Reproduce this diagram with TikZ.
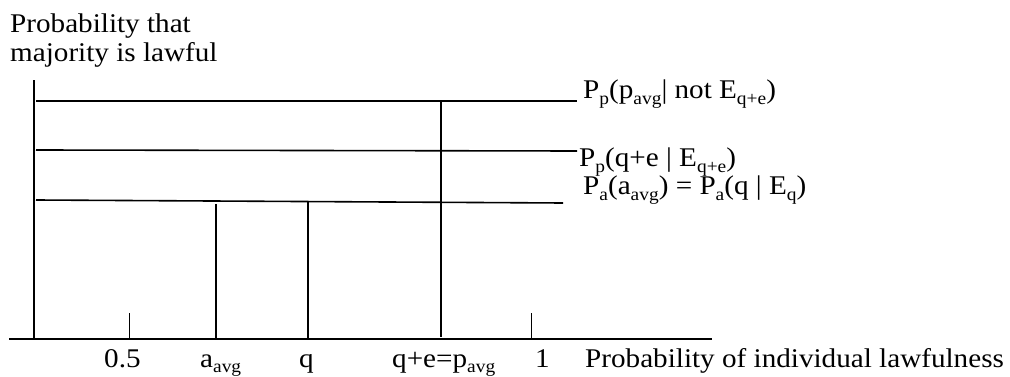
\documentclass[tikz,border=0pt]{standalone}
\usepackage{fontspec}
\setmainfont[FakeStretch=1.08]{Liberation Serif}
\newcommand\sbs[1]{\raisebox{-0.2em}{\fontsize{18}{18}\selectfont #1}}
\begin{document}
\begin{tikzpicture}[x=1pt,y=-1pt,
  ln/.style={line width=1.6pt},
  tk/.style={line width=1pt},
  lbl/.style={anchor=base west,inner sep=0pt,font=\fontsize{27}{29}\selectfont}]
\useasboundingbox (0,0) rectangle (1010,377);
% axes
\coordinate (yb) at (34,339); \coordinate (yt) at (34,80);
\coordinate (xl) at (9,339);  \coordinate (xr) at (712,339);
\draw[ln] (yb) -- (yt);
\draw[ln] (xl) -- (xr);
% ticks
\coordinate (t5b) at (129,339); \coordinate (t5t) at (129,313);
\coordinate (t1b) at (531,339); \coordinate (t1t) at (531,313);
\draw[tk] (t5b) -- (t5t);
\draw[tk] (t1b) -- (t1t);
% horizontal lines
\coordinate (h1l) at (36,101); \coordinate (h1r) at (577,101);
\coordinate (h2l) at (36,150); \coordinate (h2r) at (577,151);
\coordinate (h3l) at (36,200); \coordinate (h3r) at (563,203);
\draw[ln] (h1l) -- (h1r);
\draw[ln] (h2l) -- (h2r);
\draw[ln] (h3l) -- (h3r);
% verticals
\coordinate (vat) at (216,204); \coordinate (vab) at (216,339);
\coordinate (vqt) at (308,202); \coordinate (vqb) at (308,339);
\coordinate (vet) at (441,101); \coordinate (veb) at (441,337);
\draw[ln] (vat) -- (vab);
\draw[ln] (vqt) -- (vqb);
\draw[ln] (vet) -- (veb);
% labels
\node[lbl] (ylab1) at (10,33) {Probability that};
\node[lbl] (ylab2) at (10,62) {majority is lawful};
\node[lbl] (l1) at (583,99) {P\sbs{p}(p\sbs{avg}| not E\sbs{q+e})};
\node[lbl] (l2) at (579,167) {P\sbs{p}(q+e | E\sbs{q+e})};
\node[lbl] (l3) at (583,195) {P\sbs{a}(a\sbs{avg}) = P\sbs{a}(q | E\sbs{q})};
\node[lbl] (x05) at (104,367) {0.5};
\node[lbl] (xa) at (200,367) {a\sbs{avg}};
\node[lbl] (xq) at (299,367) {q};
\node[lbl] (xqe) at (392,367) {q+e=p\sbs{avg}};
\node[lbl] (x1) at (535,367) {1};
\node[lbl] (xlab) at (585,367) {Probability of individual lawfulness};
\end{tikzpicture}
\end{document}
